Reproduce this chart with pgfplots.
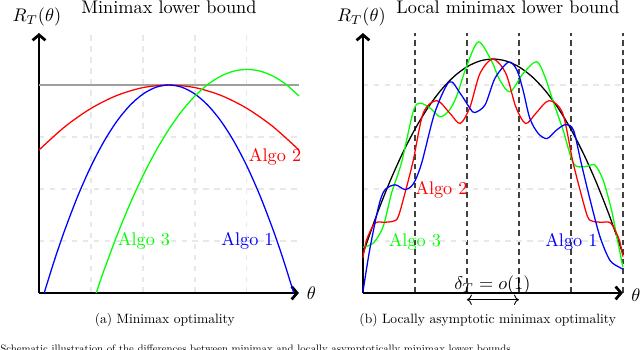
\documentclass[border=0pt]{standalone}
\usepackage{pgfplots}
\pgfplotsset{compat=1.18}
\usetikzlibrary{arrows.meta}
\begin{document}
\begin{tikzpicture}
\useasboundingbox (-0.75,-1.096) rectangle (11.56,5.635);
\pgfplotsset{
  panel/.style={
    scale only axis, width=5cm, height=5cm,
    xmin=0, xmax=5, ymin=0, ymax=5,
    axis lines=left,
    axis line style={line width=1.5pt, -{Straight Barb[length=3pt,width=7pt]}},
    xticklabels={}, yticklabels={},
    major tick length=0pt,
    clip=false,
    every axis plot/.append style={line width=0.7pt},
  },
}
% ---- (a) minimax ----
\begin{axis}[panel,
  xtick={1,2,3,4}, ytick={1,2,3,4},
  grid=major, grid style={dashed, gray!18, line width=0.6pt}]
\addplot[gray!75, line width=1pt] coordinates {(0,4) (5,4)};
\addplot[red, smooth] coordinates {
  (0,2.75) (0.5,3.2) (1,3.55) (1.5,3.8) (2,3.95) (2.5,4)
  (3,3.95) (3.5,3.8) (4,3.55) (4.5,3.2) (5,2.75)};
\addplot[blue, smooth] coordinates {
  (0.1,0) (0.3,0.639) (0.5,1.222) (0.75,1.873) (1,2.438) (1.25,2.915)
  (1.5,3.306) (1.75,3.609) (2,3.826) (2.25,3.957) (2.5,4)
  (2.75,3.957) (3,3.826) (3.25,3.609) (3.5,3.306) (3.75,2.915)
  (4,2.438) (4.25,1.873) (4.5,1.222) (4.7,0.639) (4.9,0)};
\addplot[green, smooth] coordinates {
  (1.1,0) (1.25,0.436) (1.5,1.106) (1.75,1.713) (2,2.256) (2.25,2.735)
  (2.5,3.15) (2.75,3.502) (3,3.789) (3.25,4.013) (3.5,4.172)
  (3.75,4.268) (4,4.3) (4.25,4.268) (4.5,4.172) (4.75,4.013) (5,3.789)};
\node[red] at (axis cs:4.54,2.62) {Algo 2};
\node[green] at (axis cs:2.02,1.0) {Algo 3};
\node[blue] at (axis cs:4.01,1.0) {Algo 1};
\node at (axis cs:-0.04,5.3) {$R_T(\theta)$};
\node at (axis cs:5.24,0) {$\theta$};
\node[anchor=base] at (axis cs:2.5,5.37) {Minimax lower bound};
\node at (axis cs:2.42,-0.53) {\scalebox{0.74}{(a) Minimax optimality}};
\end{axis}
% ---- (b) local minimax ----
\begin{axis}[panel, at={(6.2308cm,0)},
  xtick={1,2,3,4,5}, ytick={1,2,3,4},
  xmajorgrids, ymajorgrids,
  x grid style={black!75, dash pattern=on 3pt off 2.2pt, line width=0.7pt},
  y grid style={dashed, gray!18, line width=0.6pt}]
\addplot[black, smooth] coordinates {
  (0,0.75) (0.25,1.4625) (0.5,2.1) (0.75,2.6625) (1,3.15) (1.25,3.5625)
  (1.5,3.9) (1.75,4.1625) (2,4.35) (2.25,4.4625) (2.5,4.5)
  (2.75,4.4625) (3,4.35) (3.25,4.1625) (3.5,3.9) (3.75,3.5625)
  (4,3.15) (4.25,2.6625) (4.5,2.1) (4.75,1.4625) (5,0.75)};
\addplot[green, smooth] coordinates {
  (0,0.88) (0.2,0.96) (0.39,1.28) (0.55,1.92) (0.74,2.5) (0.97,3.5)
  (1.1,3.65) (1.3,3.55) (1.48,3.39) (1.65,3.5) (1.8,3.78) (1.99,4.35)
  (2.22,4.83) (2.47,4.47) (2.63,4.1) (2.83,3.87) (3.08,4.22) (3.34,4.45)
  (3.5,4.16) (3.66,3.68) (3.85,3.13) (4.05,2.49) (4.27,2.43) (4.46,2.46)
  (4.62,2.17) (4.78,1.6) (4.88,1.1) (5,0.5)};
\addplot[red, smooth] coordinates {
  (0,0.67) (0.07,1.02) (0.23,1.34) (0.42,1.36) (0.58,1.38) (0.68,1.47)
  (0.84,2.04) (0.97,2.56) (1.16,3.46) (1.42,3.7) (1.67,3.46) (1.87,3.26)
  (2.06,3.58) (2.25,4.22) (2.5,4.5) (2.75,4.22) (2.94,3.58) (3.13,3.26)
  (3.33,3.46) (3.58,3.7) (3.84,3.46) (4.03,2.56) (4.16,2.04) (4.32,1.47)
  (4.42,1.38) (4.58,1.36) (4.77,1.34) (4.93,1.02) (5,0.7)};
\addplot[blue, smooth] coordinates {
  (0,0.02) (0.13,0.83) (0.3,1.66) (0.42,1.98) (0.62,2.08) (0.81,1.99)
  (0.97,2.1) (1.13,2.5) (1.38,3.46) (1.66,4.06) (1.87,3.84) (2.06,3.55)
  (2.15,3.47) (2.35,3.62) (2.54,4.13) (2.8,4.44) (2.96,4.29) (3.08,3.9)
  (3.21,3.36) (3.37,3.07) (3.54,2.97) (3.72,3.13) (3.9,3.24) (4.05,3.13)
  (4.2,2.49) (4.37,1.79) (4.56,1.08) (4.75,0.63) (4.94,0.49) (5,0.46)};
\node[red] at (axis cs:1.51,1.98) {Algo 2};
\node[green] at (axis cs:1.0,0.99) {Algo 3};
\node[blue] at (axis cs:4.01,0.99) {Algo 1};
\node at (axis cs:-0.03,5.3) {$R_T(\theta)$};
\node at (axis cs:5.25,-0.04) {$\theta$};
\node[anchor=base] at (axis cs:2.79,5.37) {Local minimax lower bound};
\node[anchor=base] at (axis cs:2.49,0.06) {$\delta_T = o(1)$};
\draw[<->, line width=0.5pt] (axis cs:2,-0.13) -- (axis cs:3,-0.13);
\node at (axis cs:2.4,-0.53) {\scalebox{0.74}{(b) Locally asymptotic minimax optimality}};
\end{axis}
\node[anchor=north west, inner sep=0pt]
  at (-0.75,-1.0) {\scalebox{0.59}{Schematic illustration of the differences between minimax and locally asymptotically minimax lower bounds.}};
\end{tikzpicture}
\end{document}
